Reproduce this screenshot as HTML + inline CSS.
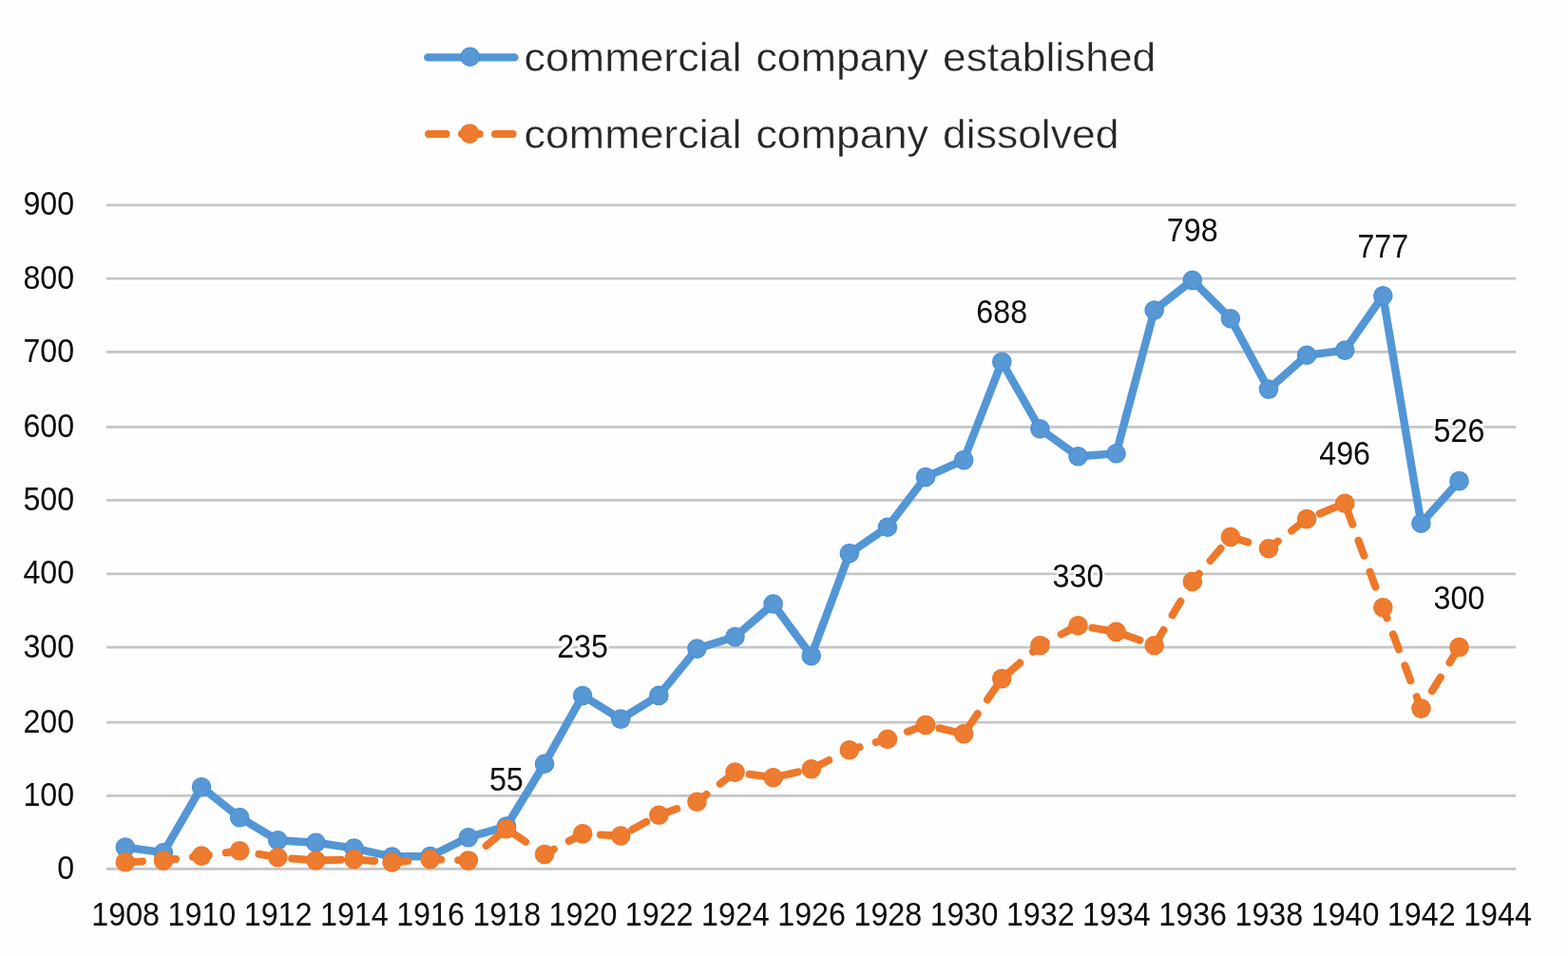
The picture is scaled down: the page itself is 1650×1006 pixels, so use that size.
<!DOCTYPE html>
<html lang="en">
<head>
<meta charset="utf-8">
<title>commercial company established / dissolved, 1908-1944</title>
<style>
html,body{margin:0;padding:0;background:#fefefe;}
body{width:1650px;height:1006px;overflow:hidden;}
svg{display:block;}
text{font-family:"Liberation Sans",sans-serif;stroke:#fefefe;stroke-linejoin:round;}
.num{font-size:34.3px;fill:#0c0c0c;stroke-width:0;}
.leg{font-size:43.2px;fill:#262626;stroke-width:0.4;}
.grid line{stroke:#c5c5c5;stroke-width:2.7;}
.s1 circle{fill:#5898d5;stroke:#4a90d8;stroke-width:1.3;}
.s2 circle{fill:#ed7c30;stroke:#ef7424;stroke-width:1.3;}
.l1{fill:none;stroke:#5396d6;stroke-width:8.4;stroke-linejoin:round;stroke-linecap:round;}
.l2{fill:none;stroke:#ee782a;stroke-width:8.0;stroke-linejoin:round;stroke-linecap:round;stroke-dasharray:17 18.08;stroke-dashoffset:-1.2;}
</style>
</head>
<body>
<svg width="1650" height="1006" viewBox="0 0 1650 1006">
<defs>
<filter id="halo" x="-15%" y="-25%" width="130%" height="150%" color-interpolation-filters="sRGB">
<feMorphology in="SourceAlpha" operator="dilate" radius="1.6" result="d"/>
<feGaussianBlur in="d" stdDeviation="0.9" result="b"/>
<feFlood flood-color="#fefefe" result="c"/>
<feComposite in="c" in2="b" operator="in" result="h"/>
<feMerge><feMergeNode in="h"/><feMergeNode in="SourceGraphic"/></feMerge>
</filter>
</defs>
<rect width="1650" height="1006" fill="#fefefe"/>

<g class="grid">
<line x1="112" y1="914.45" x2="1595" y2="914.45"/>
<line x1="112" y1="837.45" x2="1595" y2="837.45"/>
<line x1="112" y1="760.1" x2="1595" y2="760.1"/>
<line x1="112" y1="681.2" x2="1595" y2="681.2"/>
<line x1="112" y1="603.9" x2="1595" y2="603.9"/>
<line x1="112" y1="526.45" x2="1595" y2="526.45"/>
<line x1="112" y1="449.4" x2="1595" y2="449.4"/>
<line x1="112" y1="370.4" x2="1595" y2="370.4"/>
<line x1="112" y1="293.15" x2="1595" y2="293.15"/>
<line x1="112" y1="215.9" x2="1595" y2="215.9"/>
</g>
<g class="num">
<text transform="translate(78.2 924.95) scale(0.94 1)" text-anchor="end">0</text>
<text transform="translate(78.2 847.95) scale(0.94 1)" text-anchor="end">100</text>
<text transform="translate(78.2 770.6) scale(0.94 1)" text-anchor="end">200</text>
<text transform="translate(78.2 691.7) scale(0.94 1)" text-anchor="end">300</text>
<text transform="translate(78.2 614.4) scale(0.94 1)" text-anchor="end">400</text>
<text transform="translate(78.2 536.95) scale(0.94 1)" text-anchor="end">500</text>
<text transform="translate(78.2 459.9) scale(0.94 1)" text-anchor="end">600</text>
<text transform="translate(78.2 380.9) scale(0.94 1)" text-anchor="end">700</text>
<text transform="translate(78.2 303.65) scale(0.94 1)" text-anchor="end">800</text>
<text transform="translate(78.2 226.4) scale(0.94 1)" text-anchor="end">900</text>
</g>
<g class="num">
<text transform="translate(132.2 974.1) scale(0.94 1)" text-anchor="middle">1908</text>
<text transform="translate(212.41 974.1) scale(0.94 1)" text-anchor="middle">1910</text>
<text transform="translate(292.62 974.1) scale(0.94 1)" text-anchor="middle">1912</text>
<text transform="translate(372.83 974.1) scale(0.94 1)" text-anchor="middle">1914</text>
<text transform="translate(453.04 974.1) scale(0.94 1)" text-anchor="middle">1916</text>
<text transform="translate(533.25 974.1) scale(0.94 1)" text-anchor="middle">1918</text>
<text transform="translate(613.46 974.1) scale(0.94 1)" text-anchor="middle">1920</text>
<text transform="translate(693.67 974.1) scale(0.94 1)" text-anchor="middle">1922</text>
<text transform="translate(773.88 974.1) scale(0.94 1)" text-anchor="middle">1924</text>
<text transform="translate(854.09 974.1) scale(0.94 1)" text-anchor="middle">1926</text>
<text transform="translate(934.3 974.1) scale(0.94 1)" text-anchor="middle">1928</text>
<text transform="translate(1014.51 974.1) scale(0.94 1)" text-anchor="middle">1930</text>
<text transform="translate(1094.72 974.1) scale(0.94 1)" text-anchor="middle">1932</text>
<text transform="translate(1174.93 974.1) scale(0.94 1)" text-anchor="middle">1934</text>
<text transform="translate(1255.14 974.1) scale(0.94 1)" text-anchor="middle">1936</text>
<text transform="translate(1335.35 974.1) scale(0.94 1)" text-anchor="middle">1938</text>
<text transform="translate(1415.56 974.1) scale(0.94 1)" text-anchor="middle">1940</text>
<text transform="translate(1495.77 974.1) scale(0.94 1)" text-anchor="middle">1942</text>
<text transform="translate(1575.98 974.1) scale(0.94 1)" text-anchor="middle">1944</text>
</g>
<polyline class="l1" points="131.85,891.6 171.95,897.2 212.06,828.2 252.16,860.2 292.27,884.2 332.38,886.7 372.48,892.6 412.58,901.5 452.69,901 492.79,881.2 532.9,869.5 573,803.7 613.11,732 653.22,756.6 693.32,731.9 733.42,682.6 773.53,670.1 813.63,635.5 853.74,690.1 893.84,582.2 933.95,554.8 974.05,502 1014.16,484.1 1054.26,380.7 1094.37,451.3 1134.47,480.2 1174.58,477.2 1214.68,326.5 1254.79,294.9 1294.89,335.3 1335,409.6 1375.1,373.8 1415.21,368.6 1455.31,311.2 1495.42,550.8 1535.52,506.1"/>
<g class="s1">
<circle cx="131.85" cy="891.6" r="9.65"/>
<circle cx="171.95" cy="897.2" r="9.65"/>
<circle cx="212.06" cy="828.2" r="9.65"/>
<circle cx="252.16" cy="860.2" r="9.65"/>
<circle cx="292.27" cy="884.2" r="9.65"/>
<circle cx="332.38" cy="886.7" r="9.65"/>
<circle cx="372.48" cy="892.6" r="9.65"/>
<circle cx="412.58" cy="901.5" r="9.65"/>
<circle cx="452.69" cy="901" r="9.65"/>
<circle cx="492.79" cy="881.2" r="9.65"/>
<circle cx="532.9" cy="869.5" r="9.65"/>
<circle cx="573" cy="803.7" r="9.65"/>
<circle cx="613.11" cy="732" r="9.65"/>
<circle cx="653.22" cy="756.6" r="9.65"/>
<circle cx="693.32" cy="731.9" r="9.65"/>
<circle cx="733.42" cy="682.6" r="9.65"/>
<circle cx="773.53" cy="670.1" r="9.65"/>
<circle cx="813.63" cy="635.5" r="9.65"/>
<circle cx="853.74" cy="690.1" r="9.65"/>
<circle cx="893.84" cy="582.2" r="9.65"/>
<circle cx="933.95" cy="554.8" r="9.65"/>
<circle cx="974.05" cy="502" r="9.65"/>
<circle cx="1014.16" cy="484.1" r="9.65"/>
<circle cx="1054.26" cy="380.7" r="9.65"/>
<circle cx="1094.37" cy="451.3" r="9.65"/>
<circle cx="1134.47" cy="480.2" r="9.65"/>
<circle cx="1174.58" cy="477.2" r="9.65"/>
<circle cx="1214.68" cy="326.5" r="9.65"/>
<circle cx="1254.79" cy="294.9" r="9.65"/>
<circle cx="1294.89" cy="335.3" r="9.65"/>
<circle cx="1335" cy="409.6" r="9.65"/>
<circle cx="1375.1" cy="373.8" r="9.65"/>
<circle cx="1415.21" cy="368.6" r="9.65"/>
<circle cx="1455.31" cy="311.2" r="9.65"/>
<circle cx="1495.42" cy="550.8" r="9.65"/>
<circle cx="1535.52" cy="506.1" r="9.65"/>
</g>
<polyline class="l2" points="131.85,907.2 171.95,905.6 212.06,900.6 252.16,895.3 292.27,902.2 332.38,905.5 372.48,904.3 412.58,907.4 452.69,904.2 492.79,905.6 532.9,872.2 573,899 613.11,877.4 653.22,879.5 693.32,857.7 733.42,843.7 773.53,812.6 813.63,818.2 853.74,809.2 893.84,789.2 933.95,777.7 974.05,762.9 1014.16,772.2 1054.26,714.1 1094.37,679.2 1134.47,658.2 1174.58,664.9 1214.68,679.2 1254.79,612 1294.89,565 1335,577.2 1375.1,546.1 1415.21,529.7 1455.31,639.3 1495.42,745.6 1535.52,681"/>
<g class="s2">
<circle cx="131.85" cy="907.2" r="9.65"/>
<circle cx="171.95" cy="905.6" r="9.65"/>
<circle cx="212.06" cy="900.6" r="9.65"/>
<circle cx="252.16" cy="895.3" r="9.65"/>
<circle cx="292.27" cy="902.2" r="9.65"/>
<circle cx="332.38" cy="905.5" r="9.65"/>
<circle cx="372.48" cy="904.3" r="9.65"/>
<circle cx="412.58" cy="907.4" r="9.65"/>
<circle cx="452.69" cy="904.2" r="9.65"/>
<circle cx="492.79" cy="905.6" r="9.65"/>
<circle cx="532.9" cy="872.2" r="9.65"/>
<circle cx="573" cy="899" r="9.65"/>
<circle cx="613.11" cy="877.4" r="9.65"/>
<circle cx="653.22" cy="879.5" r="9.65"/>
<circle cx="693.32" cy="857.7" r="9.65"/>
<circle cx="733.42" cy="843.7" r="9.65"/>
<circle cx="773.53" cy="812.6" r="9.65"/>
<circle cx="813.63" cy="818.2" r="9.65"/>
<circle cx="853.74" cy="809.2" r="9.65"/>
<circle cx="893.84" cy="789.2" r="9.65"/>
<circle cx="933.95" cy="777.7" r="9.65"/>
<circle cx="974.05" cy="762.9" r="9.65"/>
<circle cx="1014.16" cy="772.2" r="9.65"/>
<circle cx="1054.26" cy="714.1" r="9.65"/>
<circle cx="1094.37" cy="679.2" r="9.65"/>
<circle cx="1134.47" cy="658.2" r="9.65"/>
<circle cx="1174.58" cy="664.9" r="9.65"/>
<circle cx="1214.68" cy="679.2" r="9.65"/>
<circle cx="1254.79" cy="612" r="9.65"/>
<circle cx="1294.89" cy="565" r="9.65"/>
<circle cx="1335" cy="577.2" r="9.65"/>
<circle cx="1375.1" cy="546.1" r="9.65"/>
<circle cx="1415.21" cy="529.7" r="9.65"/>
<circle cx="1455.31" cy="639.3" r="9.65"/>
<circle cx="1495.42" cy="745.6" r="9.65"/>
<circle cx="1535.52" cy="681" r="9.65"/>
</g>
<g class="num" filter="url(#halo)">
<text transform="translate(532.85 831.8) scale(0.94 1)" text-anchor="middle">55</text>
<text transform="translate(613.06 691.6) scale(0.94 1)" text-anchor="middle">235</text>
<text transform="translate(1054.21 340) scale(0.94 1)" text-anchor="middle">688</text>
<text transform="translate(1134.42 617.8) scale(0.94 1)" text-anchor="middle">330</text>
<text transform="translate(1254.74 254.1) scale(0.94 1)" text-anchor="middle">798</text>
<text transform="translate(1415.16 488.6) scale(0.94 1)" text-anchor="middle">496</text>
<text transform="translate(1455.26 270.8) scale(0.94 1)" text-anchor="middle">777</text>
<text transform="translate(1535.47 464.5) scale(0.94 1)" text-anchor="middle">526</text>
<text transform="translate(1535.47 640.6) scale(0.94 1)" text-anchor="middle">300</text>
</g>
<line class="l1" x1="450.2" y1="60.4" x2="541.4" y2="60.4"/>
<g class="s1"><circle cx="494.6" cy="59.8" r="9.65"/></g>
<line class="l2" x1="449.8" y1="141" x2="540" y2="141" style="stroke-dasharray:18.6 16.4"/>
<g class="s2"><circle cx="494.2" cy="140.6" r="9.65"/></g>
<text class="leg" y="75.1"><tspan x="551.5" textLength="229" lengthAdjust="spacingAndGlyphs">commercial</tspan> <tspan x="795.5" textLength="181.5" lengthAdjust="spacingAndGlyphs">company</tspan> <tspan x="992" textLength="224.2" lengthAdjust="spacingAndGlyphs">established</tspan></text>
<text class="leg" y="155.9"><tspan x="551.5" textLength="229" lengthAdjust="spacingAndGlyphs">commercial</tspan> <tspan x="795.5" textLength="181.5" lengthAdjust="spacingAndGlyphs">company</tspan> <tspan x="992" textLength="185.5" lengthAdjust="spacingAndGlyphs">dissolved</tspan></text>
</svg>
</body>
</html>
